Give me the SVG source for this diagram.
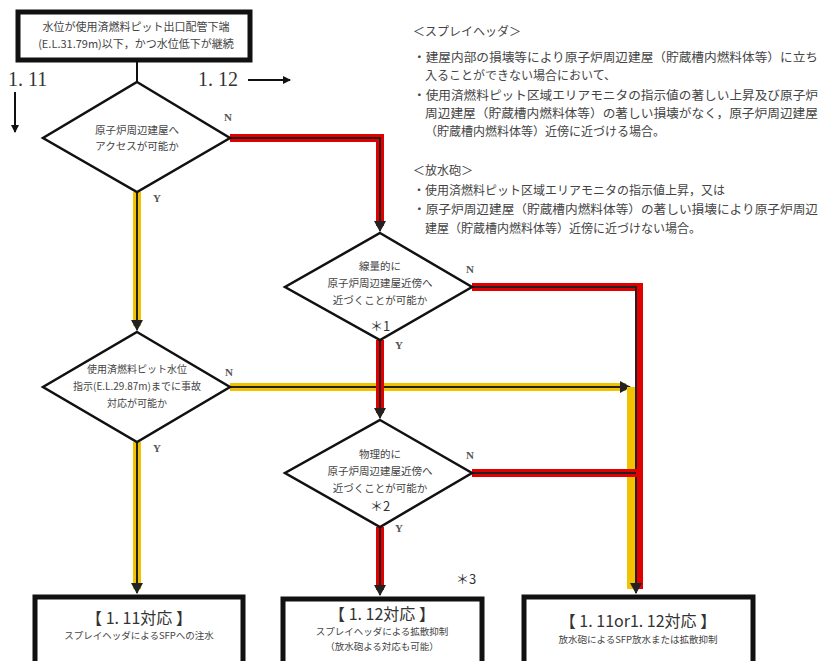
<svg xmlns="http://www.w3.org/2000/svg" width="836" height="661" viewBox="0 0 836 661">
<defs>
<style>
.jp{font-family:"Noto Sans CJK JP","Noto Sans",sans-serif;fill:#444}
.lbl{font-family:"Liberation Serif",serif;font-weight:bold;fill:#555;font-size:11px}
.num{font-family:"Liberation Serif","Noto Sans CJK JP",serif;fill:#333;font-size:20px}
.dia{fill:#fff;stroke:#111;stroke-width:2.5}
.box{fill:#fff;stroke:#111;stroke-width:5}
.red{fill:none;stroke:#e00000;stroke-width:8}
.yel{fill:none;stroke:#f2c200;stroke-width:8}
.core{fill:none;stroke:#222;stroke-width:2}
.thin{fill:none;stroke:#111;stroke-width:2}
</style>
<marker id="ah" markerWidth="8" markerHeight="8" refX="7" refY="4" orient="auto" markerUnits="userSpaceOnUse"><path d="M0,0 L8,4 L0,8 z" fill="#111"/></marker>
<marker id="ahb" markerWidth="12" markerHeight="12" refX="10" refY="6" orient="auto" markerUnits="userSpaceOnUse"><path d="M0,0 L11,6 L0,12 z" fill="#222"/></marker>
</defs>
<rect width="836" height="661" fill="#fff"/>

<g id="connectors">
<line class="thin" x1="137" y1="60" x2="137" y2="82"/>
<line class="thin" x1="15" y1="92" x2="15" y2="132" marker-end="url(#ah)"/>
<line class="thin" x1="248" y1="80" x2="290" y2="80" marker-end="url(#ah)"/>
<!-- yellow paths -->
<path class="yel" d="M137,192 V326"/>
<path class="core" d="M137,192 V330" marker-end="url(#ahb)"/>
<path class="yel" d="M137,442 V589"/>
<path class="core" d="M137,442 V593" marker-end="url(#ahb)"/>
<path class="yel" d="M230,387 H626"/>
<path class="core" d="M230,387 H630" marker-end="url(#ahb)"/>
<path class="yel" d="M631,387 V589"/>
<!-- red paths -->
<path class="red" d="M230,138 H380 V226"/>
<path class="core" d="M230,138 H380 V231" marker-end="url(#ahb)"/>
<path class="red" d="M380,340 V413"/>
<path class="core" d="M380,340 V418" marker-end="url(#ahb)"/>
<path class="red" d="M380,527 V590"/>
<path class="core" d="M380,527 V595" marker-end="url(#ahb)"/>
<path class="red" d="M472,287 H639 V589"/>
<path class="core" d="M472,287 H636 V593" marker-end="url(#ahb)"/>
<path class="red" d="M472,473 H639"/>
<path class="core" d="M472,473 H636"/>
</g>

<g id="start">
<rect class="box" x="18" y="12" width="232" height="48"/>
<text class="jp" font-size="11" text-anchor="middle" x="136" y="31">水位が使用済燃料ピット出口配管下端</text>
<text class="jp" font-size="11" text-anchor="middle" x="136" y="48">(E.L.31.79m)以下，かつ水位低下が継続</text>
</g>

<g id="ref-labels">
<text class="num" x="8" y="86">1. 11</text>
<text class="num" x="198" y="86">1. 12</text>
</g>

<g id="d1">
<polygon class="dia" points="137,82 230,138 137,192 43,138"/>
<text class="jp" font-size="10.5" text-anchor="middle" x="137" y="134">原子炉周辺建屋へ</text>
<text class="jp" font-size="10.5" text-anchor="middle" x="137" y="150">アクセスが可能か</text>
<text class="lbl" x="224" y="121">N</text>
<text class="lbl" x="153" y="202">Y</text>
</g>

<g id="d2">
<polygon class="dia" points="380,233 472,287 380,340 285,287"/>
<text class="jp" font-size="10.5" text-anchor="middle" x="380" y="270">線量的に</text>
<text class="jp" font-size="10.5" text-anchor="middle" x="380" y="287">原子炉周辺建屋近傍へ</text>
<text class="jp" font-size="10.5" text-anchor="middle" x="380" y="304">近づくことが可能か</text>
<text class="jp" font-size="13" text-anchor="middle" x="380" y="331" style="fill:#333">＊1</text>
<text class="lbl" x="466" y="273">N</text>
<text class="lbl" x="395" y="349">Y</text>
</g>

<g id="d3">
<polygon class="dia" points="137,332 230,387 137,442 43,387"/>
<text class="jp" font-size="10" text-anchor="middle" x="137" y="373">使用済燃料ピット水位</text>
<text class="jp" font-size="10" text-anchor="middle" x="137" y="390">指示(E.L.29.87m)までに事故</text>
<text class="jp" font-size="10" text-anchor="middle" x="137" y="407">対応が可能か</text>
<text class="lbl" x="225" y="376">N</text>
<text class="lbl" x="153" y="452">Y</text>
</g>

<g id="d4">
<polygon class="dia" points="380,420 472,473 380,527 285,473"/>
<text class="jp" font-size="10.5" text-anchor="middle" x="380" y="458">物理的に</text>
<text class="jp" font-size="10.5" text-anchor="middle" x="380" y="475">原子炉周辺建屋近傍へ</text>
<text class="jp" font-size="10.5" text-anchor="middle" x="380" y="492">近づくことが可能か</text>
<text class="jp" font-size="13" text-anchor="middle" x="380" y="511" style="fill:#333">＊2</text>
<text class="lbl" x="466" y="459">N</text>
<text class="lbl" x="395" y="532">Y</text>
</g>

<g id="b1">
<rect class="box" x="35" y="597" width="208" height="70"/>
<text class="jp" font-size="16" text-anchor="middle" x="139" y="624" style="fill:#333">【 1. 11対応 】</text>
<text class="jp" font-size="9.5" text-anchor="middle" x="139" y="639">スプレイヘッダによるSFPへの注水</text>
</g>

<g id="b2">
<text class="jp" font-size="13" x="456" y="584" style="fill:#333">＊3</text>
<rect class="box" x="283" y="599" width="199" height="70"/>
<text class="jp" font-size="16" text-anchor="middle" x="382" y="620" style="fill:#333">【 1. 12対応 】</text>
<text class="jp" font-size="9.5" text-anchor="middle" x="382" y="635">スプレイヘッダによる拡散抑制</text>
<text class="jp" font-size="9.5" text-anchor="middle" x="382" y="650">（放水砲よる対応も可能）</text>
</g>

<g id="b3">
<rect class="box" x="524" y="597" width="229" height="70"/>
<text class="jp" font-size="16" text-anchor="middle" x="638" y="627" style="fill:#333">【 1. 11or1. 12対応 】</text>
<text class="jp" font-size="9.5" text-anchor="middle" x="638" y="643">放水砲によるSFP放水または拡散抑制</text>
</g>

<g id="notes">
<text class="jp" font-size="12" x="413" y="36">＜スプレイヘッダ＞</text>
<text class="jp" font-size="12" x="413" y="62" textLength="405" lengthAdjust="spacingAndGlyphs">・建屋内部の損壊等により原子炉周辺建屋（貯蔵槽内燃料体等）に立ち</text>
<text class="jp" font-size="12" x="425" y="80">入ることができない場合において、</text>
<text class="jp" font-size="12" x="413" y="100" textLength="405" lengthAdjust="spacingAndGlyphs">・使用済燃料ピット区域エリアモニタの指示値の著しい上昇及び原子炉</text>
<text class="jp" font-size="12" x="425" y="118" textLength="393" lengthAdjust="spacingAndGlyphs">周辺建屋（貯蔵槽内燃料体等）の著しい損壊がなく，原子炉周辺建屋</text>
<text class="jp" font-size="12" x="425" y="136">（貯蔵槽内燃料体等）近傍に近づける場合。</text>
<text class="jp" font-size="12" x="413" y="175">＜放水砲＞</text>
<text class="jp" font-size="12" x="413" y="195">・使用済燃料ピット区域エリアモニタの指示値上昇，又は</text>
<text class="jp" font-size="12" x="413" y="214" textLength="405" lengthAdjust="spacingAndGlyphs">・原子炉周辺建屋（貯蔵槽内燃料体等）の著しい損壊により原子炉周辺</text>
<text class="jp" font-size="12" x="425" y="233">建屋（貯蔵槽内燃料体等）近傍に近づけない場合。</text>
</g>
</svg>
